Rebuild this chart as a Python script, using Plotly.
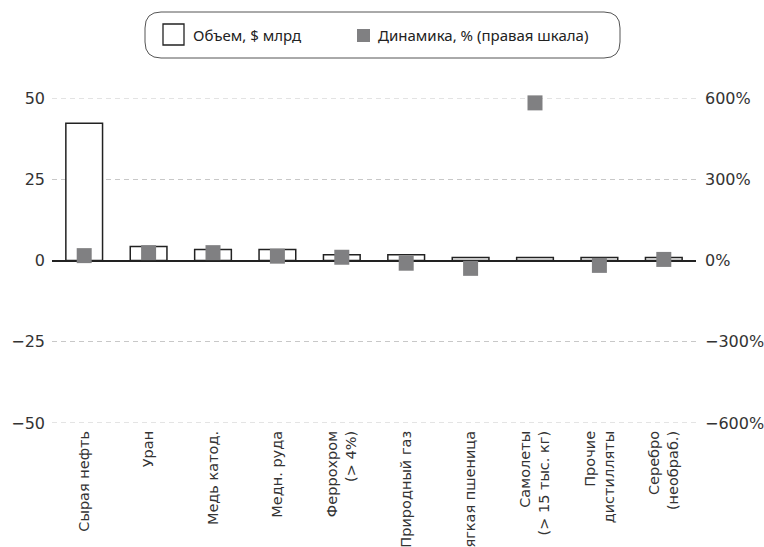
import plotly.graph_objects as go

# Data
categories = [
    "Сырая нефть", "Уран", "Медь катод.", "Медн. руда", "Феррохром<br>(> 4%)",
    "Природный газ", "Мягкая пшеница", "Самолеты<br>(> 15 тыс. кг)",
    "Прочие<br>дистилляты", "Серебро<br>(необраб.)",
]
volume_bn = [42.2, 4.3, 3.4, 3.4, 1.8, 1.8, 0.9, 0.9, 0.9, 0.9]
change_pct = [18, 29, 29, 16, 12, -10, -29, 582, -18, 4]

left_ticks = [-50, -25, 0, 25, 50]
left_ticktext = ["\u221250", "\u221225", "0", "25", "50"]
right_ticks = [-600, -300, 0, 300, 600]
right_ticktext = ["\u2212600%", "\u2212300%", "0%", "300%", "600%"]

legend_labels = ["Объем, $ млрд", "Динамика, % (правая шкала)"]

W, H = 764, 547
ML, MR, MT, MB = 52, 68, 98, 124
PW, PH = W - ML - MR, H - MT - MB

TICK_FONT = dict(family="DejaVu Sans, Liberation Sans, sans-serif", size=16, color="#333333")
CAT_FONT = dict(family="DejaVu Sans, Liberation Sans, sans-serif", size=14.5, color="#333333")
LEGEND_FONT = dict(family="Noto Sans, Liberation Sans, sans-serif", size=15, color="#222222")
MARKER_GRAY = "#808082"
GRID = dict(color="#c8c8c8", width=1, dash="5px,4px")

fig = go.Figure()

fig.add_trace(go.Bar(
    x=categories, y=volume_bn, name=legend_labels[0],
    marker=dict(color="white", line=dict(color="#222222", width=1.5)),
    width=0.57, showlegend=False, yaxis="y",
))
fig.add_trace(go.Scatter(
    x=categories, y=change_pct, name=legend_labels[1], mode="markers",
    marker=dict(symbol="square", size=15, color=MARKER_GRAY, line=dict(width=0)),
    showlegend=False, yaxis="y2", cliponaxis=False,
))


def px_x(px):
    return (px - ML) / PW


def px_y(py):
    return (H - MB - py) / PH


# Rounded legend frame
x0, x1, y0, y1, r = 145, 620, 12, 58, 16
path = (
    f"M {px_x(x0 + r)},{px_y(y0)} L {px_x(x1 - r)},{px_y(y0)} "
    f"Q {px_x(x1)},{px_y(y0)} {px_x(x1)},{px_y(y0 + r)} "
    f"L {px_x(x1)},{px_y(y1 - r)} "
    f"Q {px_x(x1)},{px_y(y1)} {px_x(x1 - r)},{px_y(y1)} "
    f"L {px_x(x0 + r)},{px_y(y1)} "
    f"Q {px_x(x0)},{px_y(y1)} {px_x(x0)},{px_y(y1 - r)} "
    f"L {px_x(x0)},{px_y(y0 + r)} "
    f"Q {px_x(x0)},{px_y(y0)} {px_x(x0 + r)},{px_y(y0)} Z"
)
shapes = [
    dict(type="path", xref="paper", yref="paper", path=path,
         line=dict(color="#555555", width=1), fillcolor="rgba(0,0,0,0)"),
    dict(type="rect", xref="paper", yref="paper",
         x0=px_x(163), x1=px_x(184), y0=px_y(45), y1=px_y(24),
         line=dict(color="#222222", width=1.3), fillcolor="white"),
    dict(type="rect", xref="paper", yref="paper",
         x0=px_x(357), x1=px_x(370), y0=px_y(42), y1=px_y(29),
         line=dict(width=0), fillcolor=MARKER_GRAY),
]
# Grid lines at the top and bottom edges of the value axis
for v in (left_ticks[0], left_ticks[-1]):
    shapes.append(dict(type="line", xref="paper", yref="y", x0=0, x1=1, y0=v, y1=v,
                       line=GRID, layer="below"))

annotations = [
    dict(text=legend_labels[0], xref="paper", yref="paper", x=px_x(191), y=px_y(35),
         xanchor="left", yanchor="middle", showarrow=False, font=LEGEND_FONT),
    dict(text=legend_labels[1], xref="paper", yref="paper", x=px_x(376), y=px_y(35),
         xanchor="left", yanchor="middle", showarrow=False, font=LEGEND_FONT),
]

fig.update_layout(
    width=W, height=H,
    margin=dict(l=ML, r=MR, t=MT, b=MB, autoexpand=False),
    paper_bgcolor="white", plot_bgcolor="white",
    showlegend=False,
    shapes=shapes, annotations=annotations,
    xaxis=dict(
        type="category", range=[-0.5, 9.5], tickangle=-90,
        tickfont=CAT_FONT, showgrid=False, showline=False, ticks="",
        ticklabelstandoff=4, automargin=False,
    ),
    yaxis=dict(
        range=[-50, 50], tickvals=left_ticks, ticktext=left_ticktext,
        tickfont=TICK_FONT, showgrid=True, gridcolor=GRID["color"], griddash=GRID["dash"],
        gridwidth=1, zeroline=True, zerolinecolor="#222222", zerolinewidth=1.5,
        showline=False, ticks="", ticklabelstandoff=6, automargin=False,
    ),
    yaxis2=dict(
        range=[-600, 600], tickvals=right_ticks, ticktext=right_ticktext,
        overlaying="y", side="right", tickfont=TICK_FONT, showgrid=False,
        zeroline=False, showline=False, ticks="", ticklabelstandoff=8,
        automargin=False,
    ),
    bargap=0.43,
)

fig.write_html("out.html")
